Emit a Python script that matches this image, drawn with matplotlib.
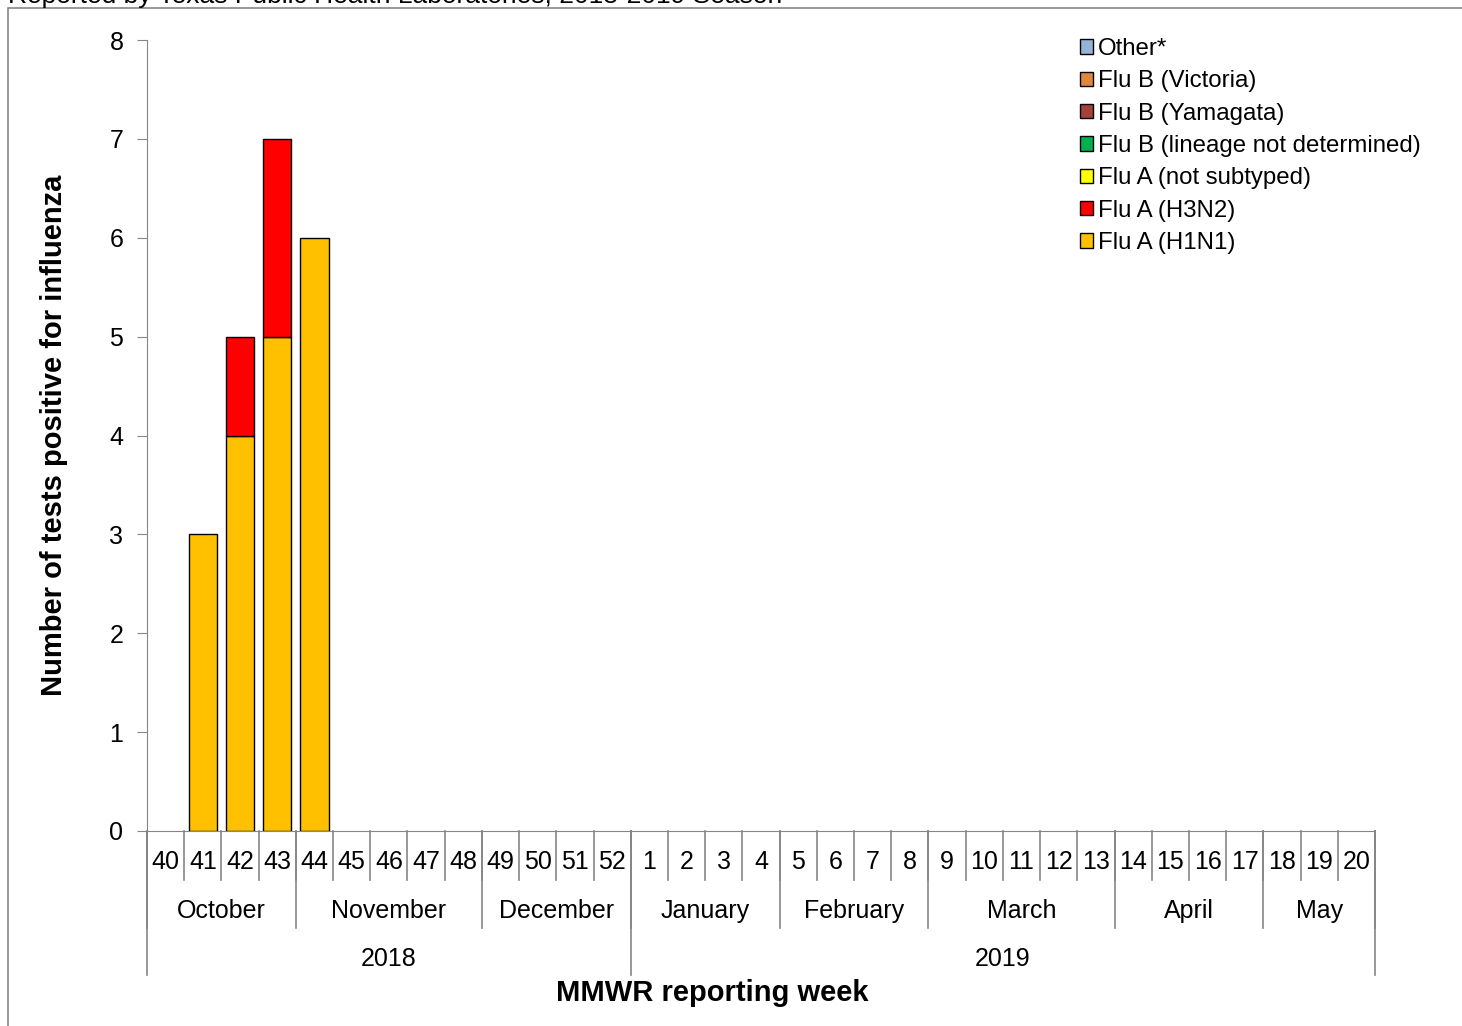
import numpy as np
import matplotlib.pyplot as plt
import matplotlib.patches as mpatches
from matplotlib.patches import Rectangle

plt.rcParams['font.family'] = ['Liberation Sans', 'DejaVu Sans']

weeks = ['40', '41', '42', '43', '44', '45', '46', '47', '48', '49', '50', '51', '52',
         '1', '2', '3', '4', '5', '6', '7', '8', '9', '10', '11', '12', '13',
         '14', '15', '16', '17', '18', '19', '20']
months = ['October', 'November', 'December', 'January', 'February', 'March', 'April', 'May']
month_len = [4, 5, 4, 4, 4, 5, 4, 3]
years = ['2018', '2019']
year_len = [13, 20]

n = len(weeks)
h1n1 = [0, 3, 4, 5, 6] + [0] * 28
h3n2 = [0, 0, 1, 2, 0] + [0] * 28
a_nst = [0] * n
b_lnd = [0] * n
b_yam = [0] * n
b_vic = [0] * n
other = [0] * n

series = [("Flu A (H1N1)", h1n1, "#FFC000"),
          ("Flu A (H3N2)", h3n2, "#FF0000"),
          ("Flu A (not subtyped)", a_nst, "#FFFF00"),
          ("Flu B (lineage not determined)", b_lnd, "#00B050"),
          ("Flu B (Yamagata)", b_yam, "#A5403D"),
          ("Flu B (Victoria)", b_vic, "#E0873C"),
          ("Other*", other, "#95B3D7")]

W, H = 1462, 1026
fs = 18
fig = plt.figure(figsize=(W / 100, H / 100), dpi=100)
ax = fig.add_axes([147 / W, 1 - 831 / H, (1375 - 147) / W, (831 - 40) / H])

x = np.arange(n)
bottom = np.zeros(n)
handles = []
for name, vals, col in series:
    vals = np.array(vals, dtype=float)
    nz = vals > 0
    if nz.any():
        ax.bar(x[nz], vals[nz], 0.76, bottom=bottom[nz], color=col, edgecolor='black', linewidth=1)
    bottom += vals
    handles.append(mpatches.Patch(facecolor=col, edgecolor='black', linewidth=1, label=name))

gray = '#868686'
ax.set_xlim(-0.5, n - 0.5)
ax.set_ylim(0, 8)
ax.set_yticks(range(0, 9))
ax.tick_params(axis='y', labelsize=fs, length=7, color=gray, pad=10)
ax.set_xticks([])
for s in ['top', 'right']:
    ax.spines[s].set_visible(False)
ax.spines['left'].set_color(gray)
ax.spines['bottom'].set_color(gray)
ax.set_ylabel('Number of tests positive for influenza', fontsize=21, fontweight='bold', labelpad=30)

trans = ax.get_xaxis_transform()
axh = 831 - 40
yw, ym, yy = -49 / axh, -97 / axh, -144 / axh

# week row
for i, w in enumerate(weeks):
    ax.text(i, -31 / axh, w, transform=trans, ha='center', va='center', fontsize=fs)
for i in range(n + 1):
    ax.plot([i - 0.5, i - 0.5], [0, yw], transform=trans, color=gray, lw=1.2, clip_on=False)

# month row
pos = 0
for m, l in zip(months, month_len):
    ax.text(pos + l / 2 - 0.5, -80 / axh, m, transform=trans, ha='center', va='center', fontsize=fs)
    ax.plot([pos - 0.5, pos - 0.5], [0, ym], transform=trans, color=gray, lw=1.2, clip_on=False)
    pos += l
ax.plot([pos - 0.5, pos - 0.5], [0, ym], transform=trans, color=gray, lw=1.2, clip_on=False)

# year row
pos = 0
for yr, l in zip(years, year_len):
    ax.text(pos + l / 2 - 0.5, -128 / axh, yr, transform=trans, ha='center', va='center', fontsize=fs)
    ax.plot([pos - 0.5, pos - 0.5], [0, yy], transform=trans, color=gray, lw=1.2, clip_on=False)
    pos += l
ax.plot([pos - 0.5, pos - 0.5], [0, yy], transform=trans, color=gray, lw=1.2, clip_on=False)

ax.text(0.46, -162 / axh, 'MMWR reporting week', transform=ax.transAxes, ha='center', va='center',
        fontsize=21, fontweight='bold')

leg = fig.legend(handles=handles[::-1], loc='upper left', bbox_to_anchor=(1068 / W, 1 - 26 / H),
                 frameon=False, fontsize=17.3, handlelength=0.55, handleheight=0.55,
                 handletextpad=0.2, labelspacing=0.43, borderpad=0)

# outer border and cut-off title
fig.patches.append(Rectangle((8 / W, -0.1), 1.2, 1 - 8 / H + 0.1, transform=fig.transFigure,
                             fill=False, edgecolor=gray, linewidth=1.2))
fig.text(8 / W, 1 - 3 / H, 'Reported by Texas Public Health Laboratories, 2018-2019 Season',
         ha='left', va='baseline', fontsize=19)

fig.savefig('out.png', dpi=100)
